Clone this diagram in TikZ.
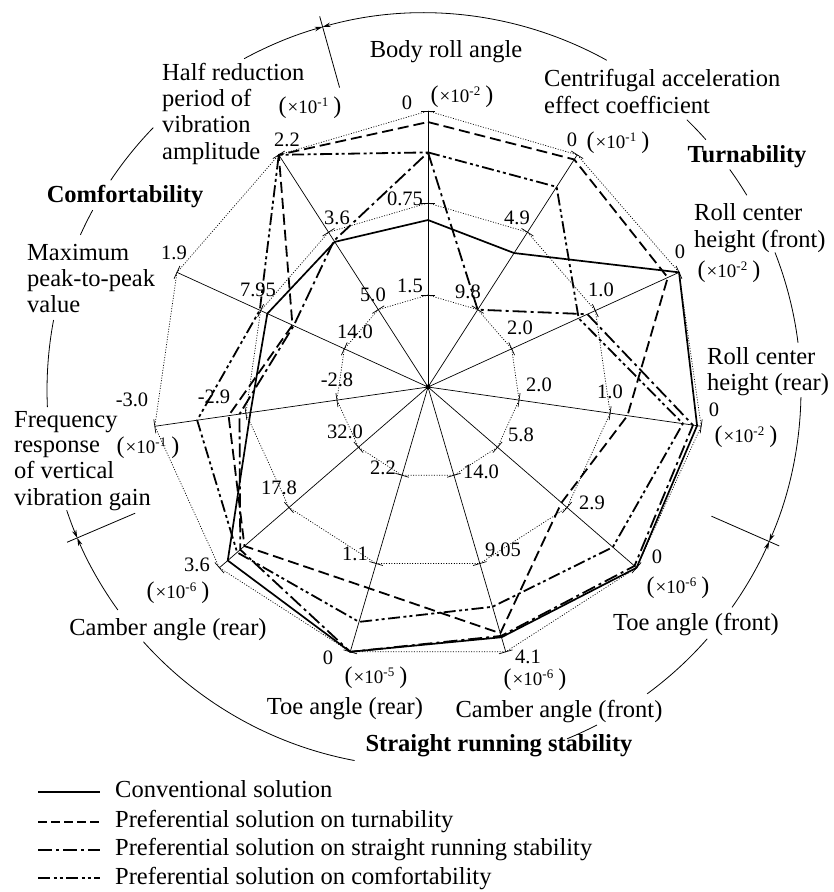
\documentclass[tikz,border=0pt]{standalone}
\usepackage{fontspec}
\setmainfont{Liberation Serif}
\usetikzlibrary{arrows.meta}
\newcommand{\sci}[1]{{\fontsize{24}{24}\selectfont(}{\fontsize{19}{19}\selectfont\kern1pt ×10\raisebox{7pt}{\fontsize{13}{13}\selectfont#1}\kern5pt}{\fontsize{24}{24}\selectfont)}}
\newcommand{\mkseries}[2]{\foreach \v [count=\k] in {#2} {\coordinate (#1\k) at ({(\k-1)*360/11-90}:{\v*276});}}
\begin{document}
\begin{tikzpicture}[x=1pt,y=1pt,yscale=-1,
  lbl/.style={font=\fontsize{24.5}{26}\selectfont, inner sep=0pt},
  bld/.style={font=\fontsize{24.5}{26}\selectfont\bfseries, inner sep=0pt},
  num/.style={font=\fontsize{20.5}{22}\selectfont, inner sep=0pt},
  sc/.style={inner sep=0pt},
  axisline/.style={line width=0.7pt},
  ring/.style={line width=0.7pt, dash pattern=on 1pt off 1.6pt},
  arcl/.style={line width=0.8pt},
  arrarc/.style={line width=0.8pt, -{Stealth[length=8pt,width=4.5pt]}},
  conv/.style={line width=1.7pt, line join=round},
  turn/.style={line width=1.8pt, line join=round, dash pattern=on 11pt off 5pt},
  strt/.style={line width=1.8pt, line join=round, dash pattern=on 14pt off 4pt on 3pt off 4pt},
  cmft/.style={line width=1.8pt, line join=round, dash pattern=on 12pt off 3.5pt on 3pt off 3pt on 3pt off 3.5pt}
]
\useasboundingbox (0,0) rectangle (834,892);

% ---------- radar chart ----------
\begin{scope}[shift={(428,387)}]
  \coordinate (O) at (0,0);
  \foreach \k in {1,...,11}{
    \pgfmathsetmacro{\th}{(\k-1)*360/11-90}
    \coordinate (ax\k) at (\th:276);
    \coordinate (ra\k) at (\th:92);
    \coordinate (rb\k) at (\th:184);
    \draw[axisline] (O) -- (ax\k);
    \foreach \r in {92,184,276}{
      \draw[axisline, rotate=\th] (\r,-7) -- (\r,7);
    }
  }
  \draw[ring] (ra1)--(ra2)--(ra3)--(ra4)--(ra5)--(ra6)--(ra7)--(ra8)--(ra9)--(ra10)--(ra11)--cycle;
  \draw[ring] (rb1)--(rb2)--(rb3)--(rb4)--(rb5)--(rb6)--(rb7)--(rb8)--(rb9)--(rb10)--(rb11)--cycle;
  \draw[ring] (ax1)--(ax2)--(ax3)--(ax4)--(ax5)--(ax6)--(ax7)--(ax8)--(ax9)--(ax10)--(ax11)--cycle;
  \fill (O) circle (2.5);

  \mkseries{cv}{0.605,0.577,1.0,0.985,1.0,0.945,1.0,0.96,0.65,0.64,0.625}
  \mkseries{tu}{0.96,0.98,0.955,0.73,0.64,0.93,0.76,0.88,0.73,0.54,1.0}
  \mkseries{st}{0.85,0.333,0.635,0.97,0.99,0.94,1.0,0.90,0.69,0.535,0.63}
  \mkseries{cf}{0.85,0.862,0.60,0.933,0.886,0.83,0.887,0.915,0.845,0.67,1.0}

  \draw[conv] (cv1)--(cv2)--(cv3)--(cv4)--(cv5)--(cv6)--(cv7)--(cv8)--(cv9)--(cv10)--(cv11)--cycle;
  \draw[turn] (tu1)--(tu2)--(tu3)--(tu4)--(tu5)--(tu6)--(tu7)--(tu8)--(tu9)--(tu10)--(tu11)--cycle;
  \draw[strt] (st1)--(st2)--(st3)--(st4)--(st5)--(st6)--(st7)--(st8)--(st9)--(st10)--(st11)--cycle;
  \draw[cmft] (cf1)--(cf2)--(cf3)--(cf4)--(cf5)--(cf6)--(cf7)--(cf8)--(cf9)--(cf10)--(cf11)--cycle;
\end{scope}

% ---------- outer arcs ----------
\begin{scope}[shift={(424,390)}]
  \draw[arrarc] (-118.5:377) arc[start angle=-118.5, end angle=-105.6, radius=377];
  \draw[arrarc] (-61.0:377) arc[start angle=-61.0, end angle=-105.6, radius=377];
  \draw[arcl] (-45.8:377) arc[start angle=-45.8, end angle=-41.6, radius=377];
  \draw[arcl] (-35.8:377) arc[start angle=-35.8, end angle=-31.1, radius=377];
  \draw[arcl] (-21.4:377) arc[start angle=-21.4, end angle=-7.2, radius=377];
  \draw[arrarc] (1.1:377) arc[start angle=1.1, end angle=23.7, radius=377];
  \draw[arrarc] (35.2:377) arc[start angle=35.2, end angle=23.7, radius=377];
  \draw[arcl] (41.3:377) arc[start angle=41.3, end angle=53.7, radius=377];
  \draw[arcl] (62.7:377) arc[start angle=62.7, end angle=67.7, radius=377];
  \draw[arcl] (100.6:377) arc[start angle=100.6, end angle=138.1, radius=377];
  \draw[arrarc] (144.3:377) arc[start angle=144.3, end angle=156.9, radius=377];
  \draw[arrarc] (161.4:377) arc[start angle=161.4, end angle=156.9, radius=377];
  \draw[arcl] (177.4:377) arc[start angle=177.4, end angle=190.7, radius=377];
  \draw[arcl] (-155.7:377) arc[start angle=-155.7, end angle=-151.5, radius=377];
  \draw[arcl] (-146.2:377) arc[start angle=-146.2, end angle=-135.9, radius=377];
  \coordinate (d1a) at (-105.6:314); \coordinate (d1b) at (-105.6:388);
  \coordinate (d2a) at (23.7:314);   \coordinate (d2b) at (23.7:388);
  \coordinate (d3a) at (156.9:314);  \coordinate (d3b) at (156.9:388);
  \draw[arcl] (d1a) -- (d1b);
  \draw[arcl] (d2a) -- (d2b);
  \draw[arcl] (d3a) -- (d3b);
\end{scope}

% ---------- axis titles ----------
\node[lbl, anchor=base] (tBR) at (446,57) {Body roll angle};
\node[lbl, anchor=base west] (tCA1) at (544,86) {Centrifugal acceleration};
\node[lbl, anchor=base west] (tCA2) at (544,113) {effect coefficient};
\node[bld, anchor=base] (tTurn) at (747,162) {Turnability};
\node[lbl, anchor=base west] (tRF1) at (694,220) {Roll center};
\node[lbl, anchor=base west] (tRF2) at (694,247) {height (front)};
\node[lbl, anchor=base west] (tRR1) at (707,364) {Roll center};
\node[lbl, anchor=base west] (tRR2) at (707,390) {height (rear)};
\node[lbl, anchor=base] (tTF) at (696,630) {Toe angle (front)};
\node[lbl, anchor=base] (tCF) at (559,717) {Camber angle (front)};
\node[bld, anchor=base] (tStr) at (499,751) {Straight running stability};
\node[lbl, anchor=base] (tTR) at (345,714) {Toe angle (rear)};
\node[lbl, anchor=base] (tCR) at (168,635) {Camber angle (rear)};
\node[lbl, anchor=base west] (tFR1) at (14,427) {Frequency};
\node[lbl, anchor=base west] (tFR2) at (14,452) {response};
\node[lbl, anchor=base west] (tFR3) at (14,478) {of vertical};
\node[lbl, anchor=base west] (tFR4) at (14,505) {vibration gain};
\node[lbl, anchor=base west] (tMP1) at (27,260) {Maximum};
\node[lbl, anchor=base west] (tMP2) at (27,286) {peak-to-peak};
\node[lbl, anchor=base west] (tMP3) at (27,312) {value};
\node[bld, anchor=base] (tCom) at (125,202) {Comfortability};
\node[lbl, anchor=base west] (tHR1) at (162,80) {Half reduction};
\node[lbl, anchor=base west] (tHR2) at (162,106.3) {period of};
\node[lbl, anchor=base west] (tHR3) at (162,132.7) {vibration};
\node[lbl, anchor=base west] (tHR4) at (162,159) {amplitude};

% ---------- unit labels ----------
\node[sc] (u1) at (462,97) {\sci{-2}};
\node[sc] (u2) at (618,143) {\sci{-1}};
\node[sc] (u3) at (729,272) {\sci{-2}};
\node[sc] (u4) at (746,437) {\sci{-2}};
\node[sc] (u5) at (678,588) {\sci{-6}};
\node[sc] (u6) at (535,680) {\sci{-6}};
\node[sc] (u7) at (376,678) {\sci{-5}};
\node[sc] (u8) at (178,593) {\sci{-6}};
\node[sc] (u9) at (148,448) {\sci{-1}};
\node[sc] (u10) at (310,108) {\sci{-1}};

% ---------- scale numbers ----------
\node[num] (n1a) at (407,103) {0};
\node[num] (n1b) at (405,199) {0.75};
\node[num] (n1c) at (410,286) {1.5};
\node[num] (n2a) at (572,140) {0};
\node[num] (n2b) at (517,218) {4.9};
\node[num] (n2c) at (468,292) {9.8};
\node[num] (n3a) at (680,252) {0};
\node[num] (n3b) at (601,290) {1.0};
\node[num] (n3c) at (520,328) {2.0};
\node[num] (n4a) at (714,410) {0};
\node[num] (n4b) at (610,392) {1.0};
\node[num] (n4c) at (539,385) {2.0};
\node[num] (n5a) at (657,557) {0};
\node[num] (n5b) at (592,503) {2.9};
\node[num] (n5c) at (521,435) {5.8};
\node[num] (n6a) at (528,657) {4.1};
\node[num] (n6b) at (503,550) {9.05};
\node[num] (n6c) at (481,472) {14.0};
\node[num] (n7a) at (328,658) {0};
\node[num] (n7b) at (355,554) {1.1};
\node[num] (n7c) at (383,468) {2.2};
\node[num] (n8a) at (197,565) {3.6};
\node[num] (n8b) at (279,488) {17.8};
\node[num] (n8c) at (345,432) {32.0};
\node[num] (n9a) at (132,400) {-3.0};
\node[num] (n9b) at (214,397) {-2.9};
\node[num] (n9c) at (337,380) {-2.8};
\node[num] (n10a) at (174,253) {1.9};
\node[num] (n10b) at (258,290) {7.95};
\node[num] (n10c) at (355,332) {14.0};
\node[num] (n11a) at (287,140) {2.2};
\node[num] (n11b) at (337,218) {3.6};
\node[num] (n11c) at (373,295) {5.0};

% ---------- legend ----------
\coordinate (g1a) at (38,792);  \coordinate (g1b) at (100,792);
\coordinate (g2a) at (38,822);  \coordinate (g2b) at (100,822);
\coordinate (g3a) at (38,850);  \coordinate (g3b) at (100,850);
\coordinate (g4a) at (38,878);  \coordinate (g4b) at (100,878);
\draw[conv, line width=1.5pt] (g1a) -- (g1b);
\draw[turn, line width=1.5pt, dash pattern=on 9pt off 4pt] (g2a) -- (g2b);
\draw[strt, line width=1.5pt] (g3a) -- (g3b);
\draw[cmft, line width=1.5pt] (g4a) -- (g4b);
\node[lbl, anchor=base west] (L1) at (115,797.5) {Conventional solution};
\node[lbl, anchor=base west] (L2) at (115,827.5) {Preferential solution on turnability};
\node[lbl, anchor=base west] (L3) at (115,855.5) {Preferential solution on straight running stability};
\node[lbl, anchor=base west] (L4) at (115,884) {Preferential solution on comfortability};
\end{tikzpicture}
\end{document}
